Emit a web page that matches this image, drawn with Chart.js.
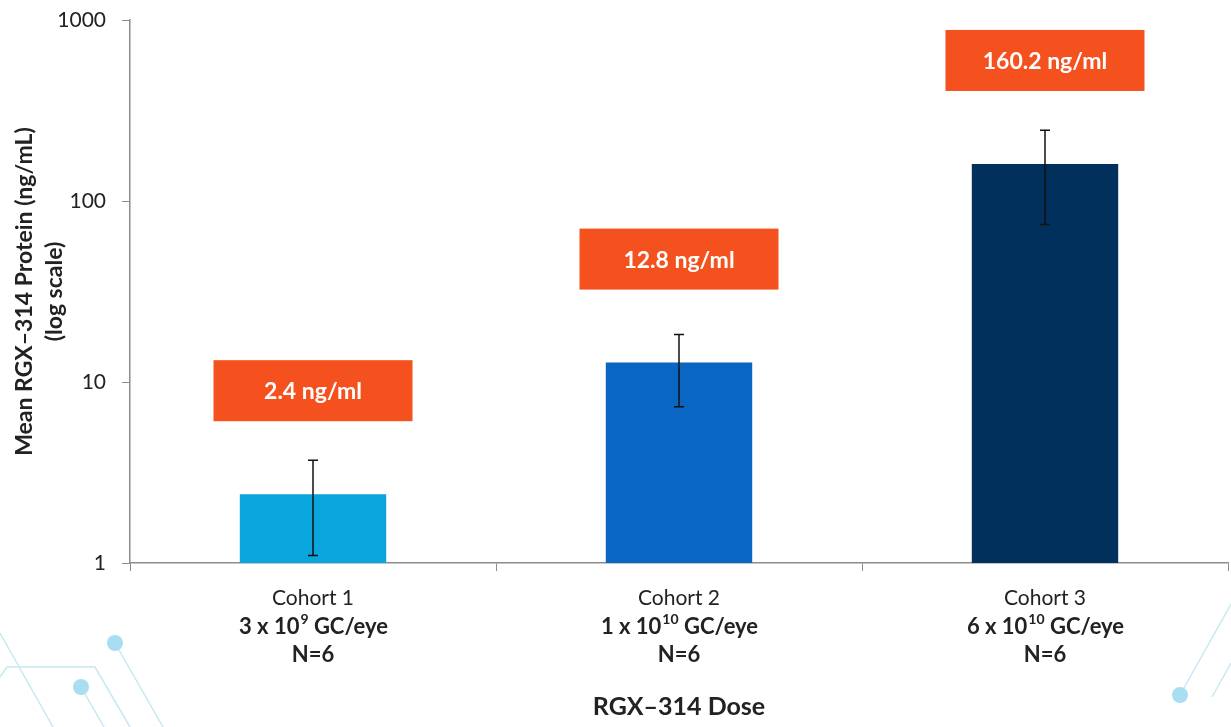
<!DOCTYPE html>
<html>
<head>
<meta charset="utf-8">
<script src="https://cdn.jsdelivr.net/npm/chart.js@4.4.0/dist/chart.umd.min.js"></script>
<style>
  body { margin: 0; background: #fff; }
  #chart { display: block; }
</style>
</head>
<body>
<canvas id="chart" width="1231" height="727"></canvas>
<script>
const cohorts = ['Cohort 1', 'Cohort 2', 'Cohort 3'];
const doseBase = ['3 x 10', '1 x 10', '6 x 10'];
const doseExp = ['9', '10', '10'];
const nLabels = ['N=6', 'N=6', 'N=6'];
const meanProtein = [2.4, 12.8, 160.2];
const errorSD = [1.3, 5.5, 86];
const boxLabels = ['2.4 ng/ml', '12.8 ng/ml', '160.2 ng/ml'];
const barColors = ['#0AA5DD', '#0966C3', '#00305B'];
const yTicks = [1, 10, 100, 1000];

const FONT = 'Lato, "Open Sans", sans-serif';

// faint background decoration (corner circuit lines)
const decorPlugin = {
    id: 'decor',
    beforeDraw(chart) {
        const c = chart.ctx;
        c.save();
        c.strokeStyle = '#C6E8F3';
        c.lineWidth = 1.5;
        const lines = [
            [[0, 677], [7, 667], [95, 667], [130, 727]],
            [[0, 633], [53, 727]],
            [[115, 643], [163, 727]],
            [[81, 687], [104, 727]],
            [[1180, 695], [1231, 604]],
            [[1212, 697], [1231, 663]]
        ];
        lines.forEach(pts => {
            c.beginPath();
            pts.forEach((p, i) => i ? c.lineTo(p[0], p[1]) : c.moveTo(p[0], p[1]));
            c.stroke();
        });
        c.fillStyle = '#A9DDF1';
        [[115, 643], [81, 687], [1180, 695]].forEach(p => {
            c.beginPath();
            c.arc(p[0], p[1], 8, 0, Math.PI * 2);
            c.fill();
        });
        c.restore();
    }
};

// error bars, value boxes and the multi-line category labels
const extrasPlugin = {
    id: 'extras',
    afterDatasetsDraw(chart) {
        const c = chart.ctx;
        const y = chart.scales.y;
        const x = chart.scales.x;
        const bars = chart.getDatasetMeta(0).data;
        c.save();

        // error bars
        c.strokeStyle = '#111';
        c.lineWidth = 1.5;
        bars.forEach((bar, i) => {
            const top = y.getPixelForValue(meanProtein[i] + errorSD[i]);
            const bot = y.getPixelForValue(meanProtein[i] - errorSD[i]);
            c.beginPath();
            c.moveTo(bar.x, top); c.lineTo(bar.x, bot);
            c.moveTo(bar.x - 5, top); c.lineTo(bar.x + 5, top);
            c.moveTo(bar.x - 5, bot); c.lineTo(bar.x + 5, bot);
            c.stroke();
        });

        // value boxes
        bars.forEach((bar, i) => {
            const w = 199, h = 61;
            const bottom = bar.y - 73;
            c.fillStyle = '#F4511E';
            c.fillRect(bar.x - w / 2, bottom - h, w, h);
            c.fillStyle = '#fff';
            c.font = 'bold 23px ' + FONT;
            c.textAlign = 'center';
            c.textBaseline = 'middle';
            c.fillText(boxLabels[i], bar.x, bottom - h / 2 + 1);
        });

        // category labels
        c.fillStyle = '#222';
        c.textBaseline = 'middle';
        cohorts.forEach((name, i) => {
            const cx = x.getPixelForValue(i);
            const base = chart.chartArea.bottom;
            c.textAlign = 'center';
            c.font = '21px ' + FONT;
            c.fillText(name, cx, base + 35);

            c.font = 'bold 22px ' + FONT;
            const w1 = c.measureText(doseBase[i]).width;
            const w3 = c.measureText(' GC/eye').width;
            c.font = 'bold 14px ' + FONT;
            const w2 = c.measureText(doseExp[i]).width;
            const sx = cx - (w1 + w2 + w3) / 2;
            c.textAlign = 'left';
            c.font = 'bold 22px ' + FONT;
            c.fillText(doseBase[i], sx, base + 64);
            c.font = 'bold 14px ' + FONT;
            c.fillText(doseExp[i], sx + w1 + 1, base + 56);
            c.font = 'bold 22px ' + FONT;
            c.fillText(' GC/eye', sx + w1 + w2 + 1, base + 64);

            c.textAlign = 'center';
            c.fillText(nLabels[i], cx, base + 92);
        });
        c.restore();
    }
};

new Chart(document.getElementById('chart').getContext('2d'), {
    type: 'bar',
    data: {
        labels: cohorts,
        datasets: [{
            data: meanProtein,
            backgroundColor: barColors,
            borderWidth: 0,
            barPercentage: 0.4,
            categoryPercentage: 1.0
        }]
    },
    options: {
        responsive: false,
        animation: false,
        layout: { padding: { top: 20, right: 3, left: 0, bottom: 0 } },
        plugins: {
            legend: { display: false },
            tooltip: { enabled: false }
        },
        scales: {
            x: {
                type: 'category',
                offset: true,
                afterFit: s => { s.height = 164; s.paddingLeft = 0; s.paddingRight = 0; },
                grid: { display: true, drawOnChartArea: false, offset: true, tickLength: 8, color: '#8C8C8C' },
                border: { color: '#8C8C8C', width: 1.5 },
                ticks: { display: false },
                title: {
                    display: true,
                    text: 'RGX\u2013314 Dose',
                    color: '#222',
                    font: { family: FONT, size: 25, weight: 'bold' },
                    padding: { top: 0, bottom: 5 }
                }
            },
            y: {
                type: 'logarithmic',
                min: 1,
                max: 1000,
                afterFit: s => { s.width = 130; s.paddingTop = 0; s.paddingBottom = 0; },
                afterBuildTicks: s => { s.ticks = yTicks.map(v => ({ value: v })); },
                grid: { display: true, drawOnChartArea: false, tickLength: 8, color: '#8C8C8C' },
                border: { color: '#8C8C8C', width: 1.5 },
                ticks: {
                    color: '#222',
                    padding: 16,
                    font: { family: FONT, size: 21 },
                    callback: v => String(v)
                },
                title: {
                    display: true,
                    text: ['Mean RGX\u2013314 Protein (ng/mL)', '(log scale)'],
                    color: '#222',
                    font: { family: FONT, size: 23, weight: 'bold', lineHeight: 1.3 },
                    padding: { top: 10, bottom: 0 }
                }
            }
        }
    },
    plugins: [decorPlugin, extrasPlugin]
});
</script>
</body>
</html>
